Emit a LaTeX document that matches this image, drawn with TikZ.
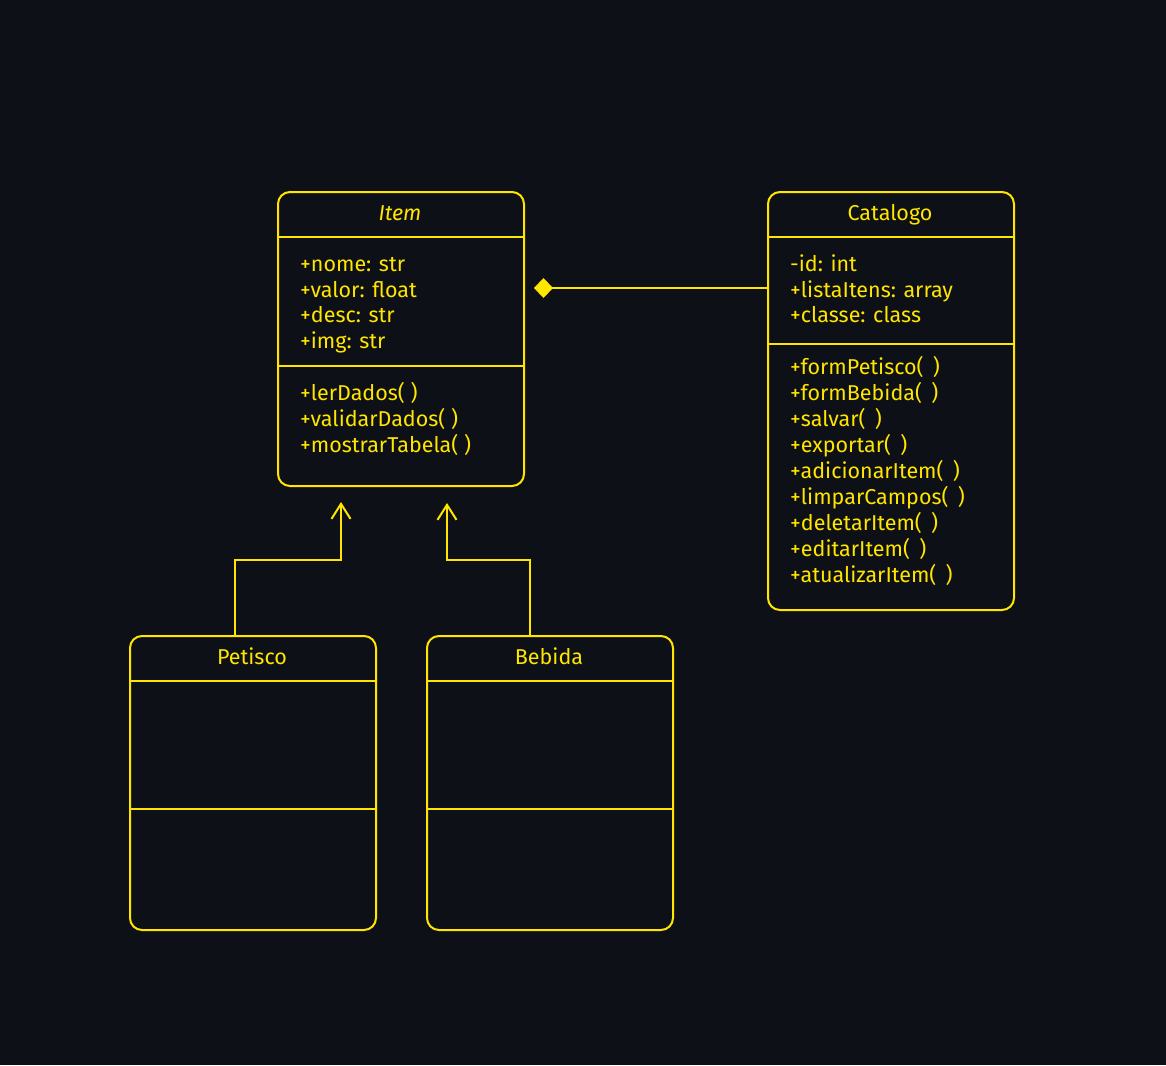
\documentclass[tikz,border=0pt]{standalone}
\usepackage{fontspec}
\setmainfont{Fira Sans}
\usetikzlibrary{arrows.meta}
\definecolor{umlyellow}{HTML}{FFE500}
\definecolor{bgdark}{HTML}{0D1016}
\newcommand{\MemberFont}{\fontsize{21.5}{26}\selectfont}
\tikzset{
    >={Straight Barb[length=15pt,width=19pt]},
    classbox/.style={draw=umlyellow,line width=2pt,rounded corners=12pt,minimum width=246pt,anchor=north west,inner sep=0pt},
    member/.style={anchor=mid west,text=umlyellow,inner sep=0pt,font=\MemberFont},
    classname/.style={anchor=mid,text=umlyellow,inner sep=0pt,font=\MemberFont},
    sep/.style={draw=umlyellow,line width=2pt},
    link/.style={draw=umlyellow,line width=2pt},
}
\begin{document}
\begin{tikzpicture}[x=1pt,y=-1pt]
\fill[bgdark] (0,0) rectangle (1166,1065);
\useasboundingbox (0,0) rectangle (1166,1065);

% class Item
\node[classbox,minimum height=294pt] (item) at (277,191) {};
\node[classname] (itemT) at (400,218) {\itshape Item};
\draw[sep] (item.west |- 0,237) -- (item.east |- 0,237);
\draw[sep] (item.west |- 0,366) -- (item.east |- 0,366);
\node[member] (itemA1) at (300,269) {+nome: str};
\node[member] (itemA2) at (300,295) {+valor: float};
\node[member] (itemA3) at (300,320) {+desc: str};
\node[member] (itemA4) at (300,346) {+img: str};
\node[member] (itemM1) at (300,398) {+lerDados( )};
\node[member] (itemM2) at (300,424) {+validarDados( )};
\node[member] (itemM3) at (300,450) {+mostrarTabela( )};

% class Catalogo
\node[classbox,minimum height=418pt] (cat) at (767,191) {};
\node[classname] (catT) at (890,218) {Catalogo};
\draw[sep] (cat.west |- 0,237) -- (cat.east |- 0,237);
\draw[sep] (cat.west |- 0,344) -- (cat.east |- 0,344);
\node[member] (catA1) at (790,269) {-id: int};
\node[member] (catA2) at (790,295) {+listaItens: array};
\node[member] (catA3) at (790,320) {+classe: class};
\node[member] (catM1) at (790,372) {+formPetisco(\, )};
\node[member] (catM2) at (790,398) {+formBebida(\, )};
\node[member] (catM3) at (790,424) {+salvar(\, )};
\node[member] (catM4) at (790,450) {+exportar(\, )};
\node[member] (catM5) at (790,476) {+adicionarItem(\, )};
\node[member] (catM6) at (790,502) {+limparCampos(\, )};
\node[member] (catM7) at (790,528) {+deletarItem(\, )};
\node[member] (catM8) at (790,554) {+editarItem(\, )};
\node[member] (catM9) at (790,580) {+atualizarItem(\, )};

% class Petisco
\node[classbox,minimum height=294pt] (petisco) at (129,635) {};
\node[classname] (petiscoT) at (252,662) {Petisco};
\draw[sep] (petisco.west |- 0,681) -- (petisco.east |- 0,681);
\draw[sep] (petisco.west |- 0,809) -- (petisco.east |- 0,809);

% class Bebida
\node[classbox,minimum height=294pt] (bebida) at (426,635) {};
\node[classname] (bebidaT) at (549,662) {Bebida};
\draw[sep] (bebida.west |- 0,681) -- (bebida.east |- 0,681);
\draw[sep] (bebida.west |- 0,809) -- (bebida.east |- 0,809);

% relations
\coordinate (itemC) at (534,288);
\coordinate (itemL) at (341,502);
\coordinate (itemR) at (447,503);
\draw[link,-{Diamond[length=19pt,width=20pt,fill=umlyellow]}] (cat.west |- itemC) -- (itemC);
\draw[link,->] (petisco.north -| 235,0) |- (341,560) -- (itemL);
\draw[link,->] (bebida.north -| 530,0) |- (447,560) -- (itemR);
\end{tikzpicture}
\end{document}
